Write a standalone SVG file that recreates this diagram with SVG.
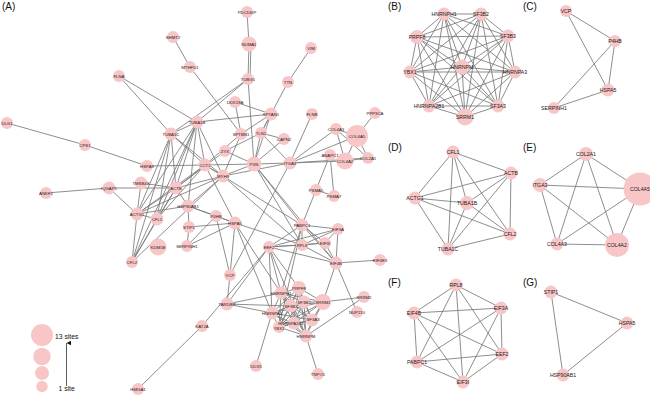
<svg xmlns="http://www.w3.org/2000/svg" width="650" height="401" viewBox="0 0 650 401">
<defs>
<style>
.bg{fill:#fff}
.e line{stroke:#7a7a7a;stroke-width:0.85}
.n circle{fill:#f8c6c6}
.n text{font-family:"Liberation Sans",Arial,sans-serif;font-size:4.3px;text-anchor:middle;fill:#1a1a1a}
.s text{font-size:5.2px}
.pl{font-family:"Liberation Sans",Arial,sans-serif;font-size:10px;fill:#111}
.lg{font-family:"Liberation Sans",Arial,sans-serif;font-size:6.8px;fill:#111}
</style>
<marker id="ah" viewBox="0 0 10 10" refX="5" refY="0" markerWidth="4.5" markerHeight="7.5" orient="auto" markerUnits="userSpaceOnUse"><path d="M0,10 L5,0 L10,10 Z" fill="#111"/></marker>
</defs>
<rect class="bg" width="650" height="401"/>
<text class="pl" x="2" y="10">(A)</text>
<text class="pl" x="388" y="10">(B)</text>
<text class="pl" x="523" y="10">(C)</text>
<text class="pl" x="388" y="151">(D)</text>
<text class="pl" x="523" y="151">(E)</text>
<text class="pl" x="388" y="286">(F)</text>
<text class="pl" x="523" y="286">(G)</text>

<g id="edges" class="e">
<line x1="247" y1="12" x2="249" y2="44"/>
<line x1="249" y1="44" x2="248" y2="79"/>
<line x1="251" y1="44" x2="250" y2="79"/>
<line x1="248" y1="79" x2="254" y2="164"/>
<line x1="173" y1="37" x2="190" y2="67"/>
<line x1="190" y1="67" x2="241" y2="134"/>
<line x1="119" y1="76" x2="197" y2="122"/>
<line x1="119" y1="76" x2="171" y2="134"/>
<line x1="248" y1="79" x2="197" y2="122"/>
<line x1="248" y1="79" x2="171" y2="134"/>
<line x1="311" y1="48" x2="288" y2="82"/>
<line x1="288" y1="82" x2="261" y2="133"/>
<line x1="235" y1="102" x2="271" y2="114"/>
<line x1="235" y1="102" x2="241" y2="134"/>
<line x1="271" y1="114" x2="241" y2="134"/>
<line x1="271" y1="114" x2="261" y2="133"/>
<line x1="271" y1="114" x2="254" y2="164"/>
<line x1="271" y1="114" x2="197" y2="122"/>
<line x1="312" y1="114" x2="290" y2="163"/>
<line x1="375" y1="113" x2="357" y2="136"/>
<line x1="368" y1="158" x2="290" y2="163"/>
<line x1="368" y1="158" x2="357" y2="136"/>
<line x1="368" y1="158" x2="336" y2="129"/>
<line x1="368" y1="158" x2="345" y2="161"/>
<line x1="290" y1="163" x2="357" y2="136"/>
<line x1="290" y1="163" x2="336" y2="129"/>
<line x1="290" y1="163" x2="345" y2="161"/>
<line x1="357" y1="136" x2="336" y2="129"/>
<line x1="357" y1="136" x2="345" y2="161"/>
<line x1="336" y1="129" x2="345" y2="161"/>
<line x1="330" y1="155" x2="316" y2="190"/>
<line x1="330" y1="155" x2="334" y2="196"/>
<line x1="316" y1="190" x2="334" y2="196"/>
<line x1="316" y1="190" x2="302" y2="225"/>
<line x1="284" y1="139" x2="261" y2="133"/>
<line x1="284" y1="139" x2="254" y2="164"/>
<line x1="225" y1="151" x2="254" y2="164"/>
<line x1="225" y1="151" x2="261" y2="133"/>
<line x1="225" y1="151" x2="176" y2="188"/>
<line x1="254" y1="164" x2="261" y2="133"/>
<line x1="254" y1="164" x2="290" y2="163"/>
<line x1="261" y1="133" x2="290" y2="163"/>
<line x1="241" y1="134" x2="223" y2="176"/>
<line x1="241" y1="134" x2="205" y2="165"/>
<line x1="176" y1="188" x2="137" y2="214"/>
<line x1="176" y1="188" x2="157" y2="219"/>
<line x1="176" y1="188" x2="132" y2="262"/>
<line x1="176" y1="188" x2="197" y2="122"/>
<line x1="176" y1="188" x2="171" y2="134"/>
<line x1="137" y1="214" x2="157" y2="219"/>
<line x1="137" y1="214" x2="132" y2="262"/>
<line x1="137" y1="214" x2="197" y2="122"/>
<line x1="137" y1="214" x2="171" y2="134"/>
<line x1="157" y1="219" x2="132" y2="262"/>
<line x1="157" y1="219" x2="197" y2="122"/>
<line x1="157" y1="219" x2="171" y2="134"/>
<line x1="132" y1="262" x2="197" y2="122"/>
<line x1="132" y1="262" x2="171" y2="134"/>
<line x1="197" y1="122" x2="171" y2="134"/>
<line x1="7" y1="123" x2="85" y2="145"/>
<line x1="85" y1="145" x2="147" y2="166"/>
<line x1="147" y1="166" x2="205" y2="165"/>
<line x1="46" y1="193" x2="109" y2="188"/>
<line x1="109" y1="188" x2="176" y2="188"/>
<line x1="109" y1="188" x2="137" y2="214"/>
<line x1="141" y1="183" x2="176" y2="188"/>
<line x1="141" y1="183" x2="137" y2="214"/>
<line x1="205" y1="165" x2="197" y2="122"/>
<line x1="205" y1="165" x2="171" y2="134"/>
<line x1="205" y1="165" x2="176" y2="188"/>
<line x1="205" y1="165" x2="137" y2="214"/>
<line x1="205" y1="165" x2="223" y2="176"/>
<line x1="205" y1="165" x2="157" y2="219"/>
<line x1="205" y1="165" x2="235" y2="223"/>
<line x1="205" y1="165" x2="254" y2="164"/>
<line x1="223" y1="176" x2="176" y2="188"/>
<line x1="223" y1="176" x2="137" y2="214"/>
<line x1="223" y1="176" x2="254" y2="164"/>
<line x1="223" y1="176" x2="197" y2="122"/>
<line x1="223" y1="176" x2="171" y2="134"/>
<line x1="223" y1="176" x2="290" y2="163"/>
<line x1="223" y1="176" x2="132" y2="262"/>
<line x1="188" y1="206" x2="176" y2="188"/>
<line x1="188" y1="206" x2="137" y2="214"/>
<line x1="188" y1="206" x2="189" y2="227"/>
<line x1="188" y1="206" x2="235" y2="223"/>
<line x1="188" y1="206" x2="216" y2="216"/>
<line x1="188" y1="206" x2="197" y2="122"/>
<line x1="188" y1="206" x2="223" y2="176"/>
<line x1="189" y1="227" x2="235" y2="223"/>
<line x1="189" y1="227" x2="187" y2="246"/>
<line x1="187" y1="246" x2="216" y2="216"/>
<line x1="187" y1="246" x2="235" y2="223"/>
<line x1="216" y1="216" x2="235" y2="223"/>
<line x1="230" y1="275" x2="216" y2="216"/>
<line x1="230" y1="275" x2="235" y2="223"/>
<line x1="230" y1="275" x2="227" y2="304"/>
<line x1="230" y1="275" x2="290" y2="163"/>
<line x1="302" y1="225" x2="338" y2="229"/>
<line x1="302" y1="225" x2="302" y2="245"/>
<line x1="302" y1="225" x2="325" y2="243"/>
<line x1="302" y1="225" x2="269" y2="247"/>
<line x1="302" y1="225" x2="336" y2="263"/>
<line x1="338" y1="229" x2="302" y2="245"/>
<line x1="338" y1="229" x2="325" y2="243"/>
<line x1="338" y1="229" x2="269" y2="247"/>
<line x1="338" y1="229" x2="336" y2="263"/>
<line x1="302" y1="245" x2="325" y2="243"/>
<line x1="302" y1="245" x2="269" y2="247"/>
<line x1="302" y1="245" x2="336" y2="263"/>
<line x1="325" y1="243" x2="269" y2="247"/>
<line x1="325" y1="243" x2="336" y2="263"/>
<line x1="269" y1="247" x2="336" y2="263"/>
<line x1="336" y1="263" x2="380" y2="260"/>
<line x1="336" y1="263" x2="323" y2="302"/>
<line x1="336" y1="263" x2="357" y2="312"/>
<line x1="254" y1="164" x2="302" y2="225"/>
<line x1="254" y1="164" x2="302" y2="245"/>
<line x1="254" y1="164" x2="336" y2="263"/>
<line x1="205" y1="165" x2="302" y2="225"/>
<line x1="223" y1="176" x2="302" y2="245"/>
<line x1="235" y1="223" x2="302" y2="245"/>
<line x1="235" y1="223" x2="272" y2="313"/>
<line x1="235" y1="223" x2="281" y2="293"/>
<line x1="269" y1="247" x2="272" y2="313"/>
<line x1="269" y1="247" x2="281" y2="293"/>
<line x1="269" y1="247" x2="306" y2="336"/>
<line x1="269" y1="247" x2="299" y2="288"/>
<line x1="269" y1="247" x2="227" y2="304"/>
<line x1="269" y1="247" x2="202" y2="326"/>
<line x1="302" y1="225" x2="281" y2="293"/>
<line x1="302" y1="225" x2="279" y2="327"/>
<line x1="202" y1="326" x2="138" y2="389"/>
<line x1="227" y1="304" x2="281" y2="293"/>
<line x1="227" y1="304" x2="272" y2="313"/>
<line x1="227" y1="304" x2="291" y2="306"/>
<line x1="323" y1="302" x2="364" y2="297"/>
<line x1="306" y1="336" x2="364" y2="297"/>
<line x1="306" y1="336" x2="318" y2="374"/>
<line x1="272" y1="313" x2="256" y2="366"/>
<line x1="299" y1="288" x2="281" y2="293"/>
<line x1="299" y1="288" x2="304" y2="302"/>
<line x1="299" y1="288" x2="323" y2="302"/>
<line x1="299" y1="288" x2="291" y2="306"/>
<line x1="299" y1="288" x2="272" y2="313"/>
<line x1="299" y1="288" x2="312" y2="320"/>
<line x1="299" y1="288" x2="293" y2="324"/>
<line x1="299" y1="288" x2="279" y2="327"/>
<line x1="299" y1="288" x2="306" y2="336"/>
<line x1="281" y1="293" x2="304" y2="302"/>
<line x1="281" y1="293" x2="323" y2="302"/>
<line x1="281" y1="293" x2="291" y2="306"/>
<line x1="281" y1="293" x2="272" y2="313"/>
<line x1="281" y1="293" x2="312" y2="320"/>
<line x1="281" y1="293" x2="293" y2="324"/>
<line x1="281" y1="293" x2="279" y2="327"/>
<line x1="281" y1="293" x2="306" y2="336"/>
<line x1="304" y1="302" x2="323" y2="302"/>
<line x1="304" y1="302" x2="291" y2="306"/>
<line x1="304" y1="302" x2="272" y2="313"/>
<line x1="304" y1="302" x2="312" y2="320"/>
<line x1="304" y1="302" x2="293" y2="324"/>
<line x1="304" y1="302" x2="279" y2="327"/>
<line x1="304" y1="302" x2="306" y2="336"/>
<line x1="323" y1="302" x2="291" y2="306"/>
<line x1="323" y1="302" x2="272" y2="313"/>
<line x1="323" y1="302" x2="312" y2="320"/>
<line x1="323" y1="302" x2="293" y2="324"/>
<line x1="323" y1="302" x2="279" y2="327"/>
<line x1="323" y1="302" x2="306" y2="336"/>
<line x1="291" y1="306" x2="272" y2="313"/>
<line x1="291" y1="306" x2="312" y2="320"/>
<line x1="291" y1="306" x2="293" y2="324"/>
<line x1="291" y1="306" x2="279" y2="327"/>
<line x1="291" y1="306" x2="306" y2="336"/>
<line x1="272" y1="313" x2="312" y2="320"/>
<line x1="272" y1="313" x2="293" y2="324"/>
<line x1="272" y1="313" x2="279" y2="327"/>
<line x1="272" y1="313" x2="306" y2="336"/>
<line x1="312" y1="320" x2="293" y2="324"/>
<line x1="312" y1="320" x2="279" y2="327"/>
<line x1="312" y1="320" x2="306" y2="336"/>
<line x1="293" y1="324" x2="279" y2="327"/>
<line x1="293" y1="324" x2="306" y2="336"/>
<line x1="279" y1="327" x2="306" y2="336"/>
<line x1="444" y1="14" x2="481" y2="14"/>
<line x1="444" y1="14" x2="417" y2="37"/>
<line x1="444" y1="14" x2="508" y2="36"/>
<line x1="444" y1="14" x2="462" y2="67"/>
<line x1="444" y1="14" x2="410" y2="72"/>
<line x1="444" y1="14" x2="515" y2="72"/>
<line x1="444" y1="14" x2="429" y2="106"/>
<line x1="444" y1="14" x2="498" y2="106"/>
<line x1="444" y1="14" x2="465" y2="117"/>
<line x1="481" y1="14" x2="417" y2="37"/>
<line x1="481" y1="14" x2="508" y2="36"/>
<line x1="481" y1="14" x2="462" y2="67"/>
<line x1="481" y1="14" x2="410" y2="72"/>
<line x1="481" y1="14" x2="515" y2="72"/>
<line x1="481" y1="14" x2="429" y2="106"/>
<line x1="481" y1="14" x2="498" y2="106"/>
<line x1="481" y1="14" x2="465" y2="117"/>
<line x1="417" y1="37" x2="508" y2="36"/>
<line x1="417" y1="37" x2="462" y2="67"/>
<line x1="417" y1="37" x2="410" y2="72"/>
<line x1="417" y1="37" x2="515" y2="72"/>
<line x1="417" y1="37" x2="429" y2="106"/>
<line x1="417" y1="37" x2="498" y2="106"/>
<line x1="417" y1="37" x2="465" y2="117"/>
<line x1="508" y1="36" x2="462" y2="67"/>
<line x1="508" y1="36" x2="410" y2="72"/>
<line x1="508" y1="36" x2="515" y2="72"/>
<line x1="508" y1="36" x2="429" y2="106"/>
<line x1="508" y1="36" x2="498" y2="106"/>
<line x1="508" y1="36" x2="465" y2="117"/>
<line x1="462" y1="67" x2="410" y2="72"/>
<line x1="462" y1="67" x2="515" y2="72"/>
<line x1="462" y1="67" x2="429" y2="106"/>
<line x1="462" y1="67" x2="498" y2="106"/>
<line x1="462" y1="67" x2="465" y2="117"/>
<line x1="410" y1="72" x2="515" y2="72"/>
<line x1="410" y1="72" x2="429" y2="106"/>
<line x1="410" y1="72" x2="498" y2="106"/>
<line x1="410" y1="72" x2="465" y2="117"/>
<line x1="515" y1="72" x2="429" y2="106"/>
<line x1="515" y1="72" x2="498" y2="106"/>
<line x1="515" y1="72" x2="465" y2="117"/>
<line x1="429" y1="106" x2="498" y2="106"/>
<line x1="429" y1="106" x2="465" y2="117"/>
<line x1="498" y1="106" x2="465" y2="117"/>
<line x1="566" y1="11" x2="615" y2="41"/>
<line x1="566" y1="11" x2="608" y2="90"/>
<line x1="615" y1="41" x2="608" y2="90"/>
<line x1="615" y1="41" x2="554" y2="108"/>
<line x1="608" y1="90" x2="554" y2="108"/>
<line x1="453" y1="152" x2="511" y2="173"/>
<line x1="453" y1="152" x2="415" y2="198"/>
<line x1="453" y1="152" x2="467" y2="203"/>
<line x1="453" y1="152" x2="510" y2="234"/>
<line x1="453" y1="152" x2="448" y2="249"/>
<line x1="511" y1="173" x2="415" y2="198"/>
<line x1="511" y1="173" x2="467" y2="203"/>
<line x1="511" y1="173" x2="510" y2="234"/>
<line x1="511" y1="173" x2="448" y2="249"/>
<line x1="415" y1="198" x2="467" y2="203"/>
<line x1="415" y1="198" x2="510" y2="234"/>
<line x1="415" y1="198" x2="448" y2="249"/>
<line x1="467" y1="203" x2="510" y2="234"/>
<line x1="467" y1="203" x2="448" y2="249"/>
<line x1="510" y1="234" x2="448" y2="249"/>
<line x1="586" y1="154" x2="540" y2="185"/>
<line x1="586" y1="154" x2="640" y2="189"/>
<line x1="586" y1="154" x2="557" y2="244"/>
<line x1="586" y1="154" x2="617" y2="245"/>
<line x1="540" y1="185" x2="640" y2="189"/>
<line x1="540" y1="185" x2="557" y2="244"/>
<line x1="540" y1="185" x2="617" y2="245"/>
<line x1="640" y1="189" x2="557" y2="244"/>
<line x1="640" y1="189" x2="617" y2="245"/>
<line x1="557" y1="244" x2="617" y2="245"/>
<line x1="456" y1="285" x2="414" y2="313"/>
<line x1="456" y1="285" x2="501" y2="308"/>
<line x1="456" y1="285" x2="502" y2="354"/>
<line x1="456" y1="285" x2="417" y2="362"/>
<line x1="456" y1="285" x2="463" y2="382"/>
<line x1="414" y1="313" x2="501" y2="308"/>
<line x1="414" y1="313" x2="502" y2="354"/>
<line x1="414" y1="313" x2="417" y2="362"/>
<line x1="414" y1="313" x2="463" y2="382"/>
<line x1="501" y1="308" x2="502" y2="354"/>
<line x1="501" y1="308" x2="417" y2="362"/>
<line x1="501" y1="308" x2="463" y2="382"/>
<line x1="502" y1="354" x2="417" y2="362"/>
<line x1="502" y1="354" x2="463" y2="382"/>
<line x1="417" y1="362" x2="463" y2="382"/>
<line x1="551" y1="292" x2="627" y2="323"/>
<line x1="551" y1="292" x2="563" y2="375"/>
<line x1="627" y1="323" x2="563" y2="375"/>
</g>

<g id="A-PDCD6IP" class="n"><circle cx="247" cy="12" r="6"/><text x="247" y="13.5">PDCD6IP</text></g>
<g id="A-NUMA1" class="n"><circle cx="249" cy="44" r="7.5"/><text x="249" y="45.5">NUMA1</text></g>
<g id="A-SHMT2" class="n"><circle cx="173" cy="37" r="6"/><text x="173" y="38.5">SHMT2</text></g>
<g id="A-MTHFD1" class="n"><circle cx="190" cy="67" r="6"/><text x="190" y="68.5">MTHFD1</text></g>
<g id="A-VIM" class="n"><circle cx="311" cy="48" r="6"/><text x="311" y="49.5">VIM</text></g>
<g id="A-TUBG1" class="n"><circle cx="248" cy="79" r="6"/><text x="248" y="80.5">TUBG1</text></g>
<g id="A-TTN" class="n"><circle cx="288" cy="82" r="6"/><text x="288" y="83.5">TTN</text></g>
<g id="A-FLNA" class="n"><circle cx="119" cy="76" r="6"/><text x="119" y="77.5">FLNA</text></g>
<g id="A-DDX19A" class="n"><circle cx="235" cy="102" r="6"/><text x="235" y="103.5">DDX19A</text></g>
<g id="A-SPTAN1" class="n"><circle cx="271" cy="114" r="6.5"/><text x="271" y="115.5">SPTAN1</text></g>
<g id="A-FLNB" class="n"><circle cx="312" cy="114" r="6"/><text x="312" y="115.5">FLNB</text></g>
<g id="A-PPP3CA" class="n"><circle cx="375" cy="113" r="6"/><text x="375" y="114.5">PPP3CA</text></g>
<g id="A-DLG1" class="n"><circle cx="7" cy="123" r="6"/><text x="7" y="124.5">DLG1</text></g>
<g id="A-TUBA1B" class="n"><circle cx="197" cy="122" r="6.5"/><text x="197" y="123.5">TUBA1B</text></g>
<g id="A-TUBA1C" class="n"><circle cx="171" cy="134" r="6.5"/><text x="171" y="135.5">TUBA1C</text></g>
<g id="A-COL4A3" class="n"><circle cx="336" cy="129" r="6"/><text x="336" y="130.5">COL4A3</text></g>
<g id="A-COL4A5" class="n"><circle cx="357" cy="136" r="11"/><text x="357" y="137.5">COL4A5</text></g>
<g id="A-SPTBN1" class="n"><circle cx="241" cy="134" r="6"/><text x="241" y="135.5">SPTBN1</text></g>
<g id="A-TLN1" class="n"><circle cx="261" cy="133" r="6"/><text x="261" y="134.5">TLN1</text></g>
<g id="A-CAPN2" class="n"><circle cx="284" cy="139" r="6"/><text x="284" y="140.5">CAPN2</text></g>
<g id="A-CPS1" class="n"><circle cx="85" cy="145" r="6"/><text x="85" y="146.5">CPS1</text></g>
<g id="A-ZYX" class="n"><circle cx="225" cy="151" r="6"/><text x="225" y="152.5">ZYX</text></g>
<g id="A-ANAPC1" class="n"><circle cx="330" cy="155" r="6"/><text x="330" y="156.5">ANAPC1</text></g>
<g id="A-COL2A1" class="n"><circle cx="368" cy="158" r="6"/><text x="368" y="159.5">COL2A1</text></g>
<g id="A-COL4A2" class="n"><circle cx="345" cy="161" r="8.5"/><text x="345" y="162.5">COL4A2</text></g>
<g id="A-CCT2" class="n"><circle cx="205" cy="165" r="6.5"/><text x="205" y="166.5">CCT2</text></g>
<g id="A-PXN" class="n"><circle cx="254" cy="164" r="7.5"/><text x="254" y="165.5">PXN</text></g>
<g id="A-ITGA3" class="n"><circle cx="290" cy="163" r="6.5"/><text x="290" y="164.5">ITGA3</text></g>
<g id="A-HSPA9" class="n"><circle cx="147" cy="166" r="6"/><text x="147" y="167.5">HSPA9</text></g>
<g id="A-MYH9" class="n"><circle cx="223" cy="176" r="6.5"/><text x="223" y="177.5">MYH9</text></g>
<g id="A-TMSB4X" class="n"><circle cx="141" cy="183" r="6.5"/><text x="141" y="184.5">TMSB4X</text></g>
<g id="A-IQGAP1" class="n"><circle cx="109" cy="188" r="6.5"/><text x="109" y="189.5">IQGAP1</text></g>
<g id="A-ANKF1" class="n"><circle cx="46" cy="193" r="6"/><text x="46" y="194.5">ANKF1</text></g>
<g id="A-ACTB" class="n"><circle cx="176" cy="188" r="6.5"/><text x="176" y="189.5">ACTB</text></g>
<g id="A-PSMA5" class="n"><circle cx="316" cy="190" r="6"/><text x="316" y="191.5">PSMA5</text></g>
<g id="A-PSMA7" class="n"><circle cx="334" cy="196" r="6"/><text x="334" y="197.5">PSMA7</text></g>
<g id="A-HSP90AB1" class="n"><circle cx="188" cy="206" r="6.5"/><text x="188" y="207.5">HSP90AB1</text></g>
<g id="A-ACTG1" class="n"><circle cx="137" cy="214" r="6.5"/><text x="137" y="215.5">ACTG1</text></g>
<g id="A-CFL1" class="n"><circle cx="157" cy="219" r="6.5"/><text x="157" y="220.5">CFL1</text></g>
<g id="A-P4HB" class="n"><circle cx="216" cy="216" r="6"/><text x="216" y="217.5">P4HB</text></g>
<g id="A-HSPA5" class="n"><circle cx="235" cy="223" r="6.5"/><text x="235" y="224.5">HSPA5</text></g>
<g id="A-PABPC1" class="n"><circle cx="302" cy="225" r="6.5"/><text x="302" y="226.5">PABPC1</text></g>
<g id="A-STIP1" class="n"><circle cx="189" cy="227" r="6"/><text x="189" y="228.5">STIP1</text></g>
<g id="A-EIF3A" class="n"><circle cx="338" cy="229" r="6"/><text x="338" y="230.5">EIF3A</text></g>
<g id="A-EIF3I" class="n"><circle cx="325" cy="243" r="6"/><text x="325" y="244.5">EIF3I</text></g>
<g id="A-RPL8" class="n"><circle cx="302" cy="245" r="6"/><text x="302" y="246.5">RPL8</text></g>
<g id="A-EEF2" class="n"><circle cx="269" cy="247" r="6"/><text x="269" y="248.5">EEF2</text></g>
<g id="A-SERPINH1" class="n"><circle cx="187" cy="246" r="6"/><text x="187" y="247.5">SERPINH1</text></g>
<g id="A-KDM5B" class="n"><circle cx="158" cy="247" r="8.5"/><text x="158" y="248.5">KDM5B</text></g>
<g id="A-CFL2" class="n"><circle cx="132" cy="262" r="6"/><text x="132" y="263.5">CFL2</text></g>
<g id="A-EIF4E3" class="n"><circle cx="380" cy="260" r="6"/><text x="380" y="261.5">EIF4E3</text></g>
<g id="A-EIF4B" class="n"><circle cx="336" cy="263" r="6.5"/><text x="336" y="264.5">EIF4B</text></g>
<g id="A-VCP" class="n"><circle cx="230" cy="275" r="6"/><text x="230" y="276.5">VCP</text></g>
<g id="A-PRPF8" class="n"><circle cx="299" cy="288" r="7"/><text x="299" y="289.5">PRPF8</text></g>
<g id="A-HNRNPH1" class="n"><circle cx="281" cy="293" r="6.5"/><text x="281" y="294.5">HNRNPH1</text></g>
<g id="A-SRRM2" class="n"><circle cx="364" cy="297" r="6"/><text x="364" y="298.5">SRRM2</text></g>
<g id="A-SF3B2" class="n"><circle cx="304" cy="302" r="6.5"/><text x="304" y="303.5">SF3B2</text></g>
<g id="A-SRRM1" class="n"><circle cx="323" cy="302" r="8"/><text x="323" y="303.5">SRRM1</text></g>
<g id="A-TARDBP" class="n"><circle cx="227" cy="304" r="6.5"/><text x="227" y="305.5">TARDBP</text></g>
<g id="A-SF3B3" class="n"><circle cx="291" cy="306" r="6.5"/><text x="291" y="307.5">SF3B3</text></g>
<g id="A-NUP210" class="n"><circle cx="357" cy="312" r="6"/><text x="357" y="313.5">NUP210</text></g>
<g id="A-HNRNPA3" class="n"><circle cx="272" cy="313" r="6.5"/><text x="272" y="314.5">HNRNPA3</text></g>
<g id="A-SF3A3" class="n"><circle cx="312" cy="320" r="6.5"/><text x="313" y="320.5">SF3A3</text></g>
<g id="A-YBX1" class="n"><circle cx="279" cy="327" r="6"/><text x="279" y="329.5">YBX1</text></g>
<g id="A-HNRNPA2B1" class="n"><circle cx="294" cy="323" r="6.5"/><text x="291" y="324.5">HNRNPA2B1</text></g>
<g id="A-KAT2A" class="n"><circle cx="202" cy="326" r="6"/><text x="202" y="327.5">KAT2A</text></g>
<g id="A-HNRNPM" class="n"><circle cx="306" cy="336" r="6.5"/><text x="306" y="337.5">HNRNPM</text></g>
<g id="A-DDX5" class="n"><circle cx="256" cy="366" r="6"/><text x="256" y="367.5">DDX5</text></g>
<g id="A-TNPO1" class="n"><circle cx="318" cy="374" r="6"/><text x="318" y="375.5">TNPO1</text></g>
<g id="A-HMGA1" class="n"><circle cx="138" cy="389" r="6"/><text x="138" y="390.5">HMGA1</text></g>

<g id="legend">
<circle cx="42" cy="335" r="11" fill="#f8c6c6"/>
<circle cx="42" cy="356.5" r="8.7" fill="#f8c6c6"/>
<circle cx="42" cy="373" r="7" fill="#f8c6c6"/>
<circle cx="42" cy="386.5" r="5.7" fill="#f8c6c6"/>
<line x1="66.5" y1="386" x2="66.5" y2="343" stroke="#333" stroke-width="0.8" marker-end="url(#ah)"/>
<text class="lg" x="55" y="338.5">13 sites</text>
<text class="lg" x="58.5" y="390.5">1 site</text>
</g>

<g id="B-HNRNPH1" class="n s"><circle cx="444" cy="14" r="6.5"/><text x="444" y="15.8">HNRNPH1</text></g>
<g id="B-SF3B2" class="n s"><circle cx="481" cy="14" r="6.5"/><text x="481" y="15.8">SF3B2</text></g>
<g id="B-PRPF8" class="n s"><circle cx="417" cy="37" r="7"/><text x="417" y="38.8">PRPF8</text></g>
<g id="B-SF3B3" class="n s"><circle cx="508" cy="36" r="6.5"/><text x="508" y="37.8">SF3B3</text></g>
<g id="B-HNRNPM" class="n s"><circle cx="462" cy="67" r="7.5"/><text x="462" y="68.8">HNRNPM</text></g>
<g id="B-YBX1" class="n s"><circle cx="410" cy="72" r="6.5"/><text x="410" y="73.8">YBX1</text></g>
<g id="B-HNRNPA3" class="n s"><circle cx="515" cy="72" r="6.5"/><text x="515" y="73.8">HNRNPA3</text></g>
<g id="B-HNRNPA2B1" class="n s"><circle cx="429" cy="106" r="6.5"/><text x="429" y="107.8">HNRNPA2B1</text></g>
<g id="B-SF3A3" class="n s"><circle cx="498" cy="106" r="6.5"/><text x="498" y="107.8">SF3A3</text></g>
<g id="B-SRRM1" class="n s"><circle cx="465" cy="117" r="8.5"/><text x="465" y="118.8">SRRM1</text></g>

<g id="C-VCP" class="n s"><circle cx="566" cy="11" r="6"/><text x="566" y="12.8">VCP</text></g>
<g id="C-P4HB" class="n s"><circle cx="615" cy="41" r="6"/><text x="615" y="42.8">P4HB</text></g>
<g id="C-HSPA5" class="n s"><circle cx="608" cy="90" r="6.5"/><text x="608" y="91.8">HSPA5</text></g>
<g id="C-SERPINH1" class="n s"><circle cx="554" cy="108" r="6"/><text x="554" y="109.8">SERPINH1</text></g>

<g id="D-CFL1" class="n s"><circle cx="453" cy="152" r="6.5"/><text x="453" y="153.8">CFL1</text></g>
<g id="D-ACTB" class="n s"><circle cx="511" cy="173" r="6.5"/><text x="511" y="174.8">ACTB</text></g>
<g id="D-ACTG1" class="n s"><circle cx="415" cy="198" r="6.5"/><text x="415" y="199.8">ACTG1</text></g>
<g id="D-TUBA1B" class="n s"><circle cx="467" cy="203" r="7"/><text x="467" y="204.8">TUBA1B</text></g>
<g id="D-CFL2" class="n s"><circle cx="510" cy="234" r="6.5"/><text x="510" y="235.8">CFL2</text></g>
<g id="D-TUBA1C" class="n s"><circle cx="448" cy="249" r="6.5"/><text x="448" y="250.8">TUBA1C</text></g>

<g id="E-COL2A1" class="n s"><circle cx="586" cy="154" r="7"/><text x="586" y="155.8">COL2A1</text></g>
<g id="E-ITGA3" class="n s"><circle cx="540" cy="185" r="7"/><text x="540" y="186.8">ITGA3</text></g>
<g id="E-COL4A5" class="n s"><circle cx="640" cy="189" r="16.5"/><text x="640" y="190.8">COL4A5</text></g>
<g id="E-COL4A3" class="n s"><circle cx="557" cy="244" r="6.5"/><text x="557" y="245.8">COL4A3</text></g>
<g id="E-COL4A2" class="n s"><circle cx="617" cy="245" r="12"/><text x="617" y="246.8">COL4A2</text></g>

<g id="F-RPL8" class="n s"><circle cx="456" cy="285" r="6.5"/><text x="456" y="286.8">RPL8</text></g>
<g id="F-EIF4B" class="n s"><circle cx="414" cy="313" r="6.5"/><text x="414" y="314.8">EIF4B</text></g>
<g id="F-EIF3A" class="n s"><circle cx="501" cy="308" r="6.5"/><text x="501" y="309.8">EIF3A</text></g>
<g id="F-EEF2" class="n s"><circle cx="502" cy="354" r="6.5"/><text x="502" y="355.8">EEF2</text></g>
<g id="F-PABPC1" class="n s"><circle cx="417" cy="362" r="6.5"/><text x="417" y="363.8">PABPC1</text></g>
<g id="F-EIF3I" class="n s"><circle cx="463" cy="382" r="6.5"/><text x="463" y="383.8">EIF3I</text></g>

<g id="G-STIP1" class="n s"><circle cx="551" cy="292" r="6.5"/><text x="551" y="293.8">STIP1</text></g>
<g id="G-HSPA5" class="n s"><circle cx="627" cy="323" r="6.5"/><text x="627" y="324.8">HSPA5</text></g>
<g id="G-HSP90AB1" class="n s"><circle cx="563" cy="375" r="6.5"/><text x="563" y="376.8">HSP90AB1</text></g>
</svg>
